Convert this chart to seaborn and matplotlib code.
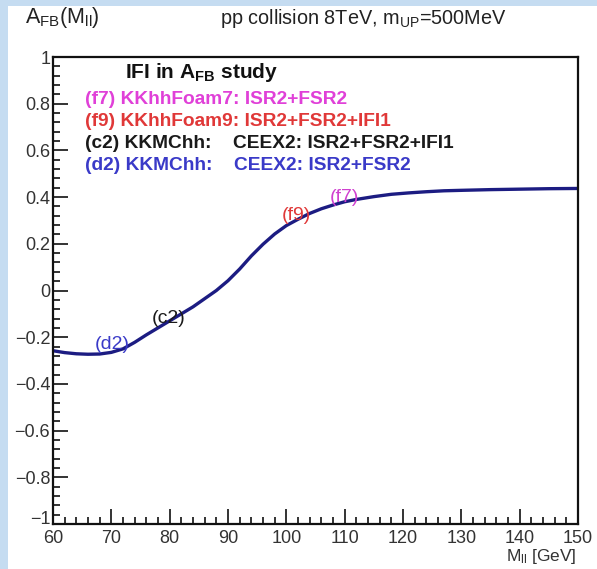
import matplotlib
matplotlib.use("Agg")
import matplotlib.pyplot as plt
from matplotlib.patches import Rectangle
from matplotlib.ticker import FixedLocator, MultipleLocator, FixedFormatter
from matplotlib.transforms import ScaledTranslation
import seaborn as sns
import pandas as pd

# ---- data ----
mass = [60, 62, 64, 66, 68, 70, 72, 74, 76, 78, 80, 82, 84, 86, 88, 90, 92, 94,
        96, 98, 100, 102, 104, 106, 108, 110, 112, 115, 118, 121, 124, 127, 130,
        135, 140, 145, 150]
afb = [-0.258, -0.266, -0.271, -0.273, -0.272, -0.265, -0.250, -0.222, -0.190,
       -0.160, -0.130, -0.100, -0.070, -0.035, 0.000, 0.042, 0.092, 0.148, 0.198,
       0.242, 0.278, 0.305, 0.330, 0.350, 0.366, 0.380, 0.390, 0.402, 0.412,
       0.418, 0.423, 0.427, 0.429, 0.432, 0.434, 0.436, 0.437]

y_ticks = [-1, -0.8, -0.6, -0.4, -0.2, 0, 0.2, 0.4, 0.6, 0.8, 1]
y_ticklabels = ["\u22121", "\u22120.8", "\u22120.6", "\u22120.4", "\u22120.2", "0",
                "0.2", "0.4", "0.6", "0.8", "1"]
x_ticks = [60, 70, 80, 90, 100, 110, 120, 130, 140, 150]
x_ticklabels = ["60", "70", "80", "90", "100", "110", "120", "130", "140", "150"]

legend_lines = ["(f7) KKhhFoam7: ISR2+FSR2",
                "(f9) KKhhFoam9: ISR2+FSR2+IFI1",
                "(c2) KKMChh:    CEEX2: ISR2+FSR2+IFI1",
                "(d2) KKMChh:    CEEX2: ISR2+FSR2"]
legend_colors = ["#e040d8", "#e03838", "#1a1a1a", "#3a3ac8"]

curve_tags = ["(d2)", "(c2)", "(f9)", "(f7)"]
tag_x = [70.1, 79.9, 101.7, 109.9]
tag_y = [-0.233, -0.118, 0.323, 0.40]
tag_colors = ["#3a3ac8", "#1a1a1a", "#e03838", "#d040d0"]

df = pd.DataFrame({"M": mass, "AFB": afb})

sns.set_style("ticks")
plt.rcParams["font.family"] = ["Liberation Sans", "DejaVu Sans"]
plt.rcParams["mathtext.default"] = "regular"

W, H = 597, 569
fig = plt.figure(figsize=(W / 100, H / 100), dpi=100)
fig.patch.set_facecolor("white")
blue = "#c5dcf1"
fig.patches.append(Rectangle((0, 0), 8 / W, 1, transform=fig.transFigure,
                             facecolor=blue, edgecolor="none", zorder=0))
fig.patches.append(Rectangle((0, 1 - 6 / H), 1, 6 / H, transform=fig.transFigure,
                             facecolor=blue, edgecolor="none", zorder=0))

ax = fig.add_axes([53 / W, 1 - 524 / H, (578 - 53) / W, (524 - 57) / H])
sns.lineplot(data=df, x="M", y="AFB", ax=ax, color="#1c1c82", linewidth=2.4)

ax.set_xlim(60, 150)
ax.set_ylim(-1, 1)
ax.xaxis.set_major_locator(FixedLocator(x_ticks))
ax.xaxis.set_major_formatter(FixedFormatter(x_ticklabels))
ax.xaxis.set_minor_locator(MultipleLocator(2))
ax.yaxis.set_major_locator(FixedLocator(y_ticks))
ax.yaxis.set_major_formatter(FixedFormatter(y_ticklabels))
ax.yaxis.set_minor_locator(MultipleLocator(0.04))
ax.tick_params(which="both", direction="in", top=False, right=False,
               colors="#111111", width=1.2)
ax.tick_params(which="major", length=11, labelsize=13, labelcolor="#333333")
ax.tick_params(axis="x", which="major", pad=4)
ax.tick_params(axis="y", which="major", pad=2)
ax.tick_params(which="minor", length=5)
for s in ax.spines.values():
    s.set_linewidth(1.6)
    s.set_color("#111111")
ax.set_xlabel("")
ax.set_ylabel("")

# raise the bottom "-1" label slightly so it clears the "60" label
fig.canvas.draw()
lab_m1 = ax.get_yticklabels()[0]
lab_m1.set_transform(lab_m1.get_transform()
                     + ScaledTranslation(0, 6 / 100, fig.dpi_scale_trans))

def px(x, y):
    return x / W, 1 - y / H

fig.text(*px(25, 18), "A$_{FB}$(M$_{ll}$)", fontsize=15.5, color="#222222",
         va="center", ha="left")
fig.text(*px(220, 18), "pp collision 8TeV, m$_{UP}$=500MeV", fontsize=14.3,
         color="#222222", va="center", ha="left")
fig.text(*px(577, 557), "M$_{ll}$ [GeV]", fontsize=12.5, color="#333333",
         va="center", ha="right")

fig.text(*px(125, 72), "IFI in A$_{FB}$ study", fontsize=15, fontweight="bold",
         color="#111111", va="center", ha="left")
for i, (txt, c) in enumerate(zip(legend_lines, legend_colors)):
    fig.text(*px(85, 99 + i * 22), txt, fontsize=13.8, fontweight="bold",
             color=c, va="center", ha="left")

for t, x, y, c in zip(curve_tags, tag_x, tag_y, tag_colors):
    ax.text(x, y, t, fontsize=14, color=c, ha="center", va="center")

fig.savefig("out.png", dpi=100)
